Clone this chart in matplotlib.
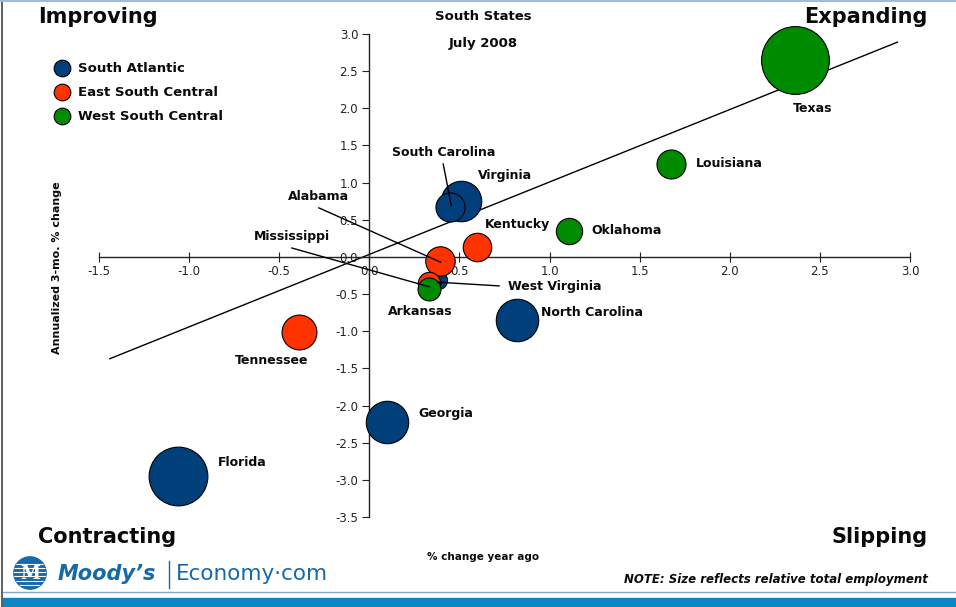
import matplotlib
matplotlib.use("Agg")
import matplotlib.pyplot as plt
from matplotlib.lines import Line2D
from matplotlib.patches import Circle, Rectangle

# data
STATES = ["Florida", "Georgia", "North Carolina", "Virginia", "South Carolina", "West Virginia",
          "Tennessee", "Alabama", "Kentucky", "Mississippi",
          "Texas", "Louisiana", "Oklahoma", "Arkansas"]
REGION = ["South Atlantic"] * 6 + ["East South Central"] * 4 + ["West South Central"] * 4
YOY_CHANGE = [-1.06, 0.10, 0.82, 0.51, 0.45, 0.38,
              -0.39, 0.39, 0.60, 0.33,
              2.36, 1.675, 1.11, 0.33]
ANN_3MO = [-2.95, -2.22, -0.85, 0.75, 0.67, -0.31,
           -1.01, -0.05, 0.13, -0.35,
           2.65, 1.25, 0.35, -0.43]
EMPLOYMENT = [7950, 4150, 4150, 3780, 1950, 760,
              2800, 2000, 1870, 1150,
              10600, 1940, 1590, 1210]
TREND_X = [-1.44, 2.93]
TREND_Y = [-1.37, 2.89]

REGIONS = ["South Atlantic", "East South Central", "West South Central"]
COLORS = {"South Atlantic": "#003f7a", "East South Central": "#ff3300", "West South Central": "#008a00"}

# label placement: (x, y, ha, leader line end or None)
LABELS = {
    "Texas": (2.46, 2.0, "center", None),
    "Louisiana": (1.81, 1.26, "left", None),
    "Oklahoma": (1.23, 0.35, "left", None),
    "Kentucky": (0.82, 0.43, "center", None),
    "Virginia": (0.75, 1.09, "center", None),
    "South Carolina": (0.41, 1.40, "center", (0.455, 0.69)),
    "Alabama": (-0.28, 0.81, "center", (0.395, -0.07)),
    "Mississippi": (-0.43, 0.27, "center", (0.33, -0.40)),
    "West Virginia": (0.77, -0.40, "left", (0.38, -0.34)),
    "Arkansas": (0.28, -0.74, "center", None),
    "North Carolina": (0.95, -0.75, "left", None),
    "Tennessee": (-0.54, -1.39, "center", None),
    "Georgia": (0.27, -2.11, "left", None),
    "Florida": (-0.84, -2.76, "left", None),
}

SIZE_SCALE = 0.225  # points^2 per thousand employees
TEXT = "#0a0a0a"


def main() -> None:
    fig = plt.figure(figsize=(9.56, 6.07), dpi=100)
    ax = fig.add_axes([99 / 956, 90 / 607, 811 / 956, 483 / 607])
    ax.set_xlim(-1.5, 3.0)
    ax.set_ylim(-3.5, 3.0)

    for i, state in enumerate(STATES):
        ax.scatter(YOY_CHANGE[i], ANN_3MO[i], s=EMPLOYMENT[i] * SIZE_SCALE,
                   color=COLORS[REGION[i]], edgecolor="black", linewidth=0.8,
                   zorder=3, clip_on=False)

    ax.plot(TREND_X, TREND_Y, color="black", linewidth=1.0, zorder=2)

    for state, (lx, ly, ha, end) in LABELS.items():
        ax.text(lx, ly, state, ha=ha, va="center", fontsize=9, fontweight="bold",
                color=TEXT, zorder=6)
        if end is not None:
            if state == "West Virginia":
                ax.plot([end[0], lx - 0.05], [end[1], ly + 0.01], color="black", lw=1.0, zorder=5)
            else:
                ax.plot([lx, end[0]], [ly - 0.15, end[1]], color="black", lw=1.0, zorder=5)

    for side in ["top", "right"]:
        ax.spines[side].set_visible(False)
    ax.spines["left"].set_position(("data", 0))
    ax.spines["bottom"].set_position(("data", 0))
    for side in ["left", "bottom"]:
        ax.spines[side].set_color("#222222")
        ax.spines[side].set_linewidth(1.0)
    ax.set_xticks([-1.5, -1.0, -0.5, 0.0, 0.5, 1.0, 1.5, 2.0, 2.5, 3.0])
    ax.set_yticks([-3.5, -3.0, -2.5, -2.0, -1.5, -1.0, -0.5, 0.0, 0.5, 1.0, 1.5, 2.0, 2.5, 3.0])
    ax.xaxis.set_major_formatter(plt.FuncFormatter(lambda v, p: f"{v:.1f}"))
    ax.yaxis.set_major_formatter(plt.FuncFormatter(lambda v, p: f"{v:.1f}"))
    ax.tick_params(axis="x", direction="inout", length=7, labelsize=8.5, colors="#222222", pad=2)
    ax.tick_params(axis="y", direction="out", length=5, labelsize=8.5, colors="#222222", pad=3)
    ax.patch.set_visible(False)

    # titles and quadrant labels
    fig.text(483 / 956, 1 - 17 / 607, "South States", ha="center", va="center",
             fontsize=9.5, fontweight="bold", color=TEXT)
    fig.text(483 / 956, 1 - 44 / 607, "July 2008", ha="center", va="center",
             fontsize=9.5, fontweight="bold", color=TEXT)
    fig.text(38 / 956, 1 - 17 / 607, "Improving", ha="left", va="center",
             fontsize=15, fontweight="bold", color=TEXT)
    fig.text(928 / 956, 1 - 17 / 607, "Expanding", ha="right", va="center",
             fontsize=15, fontweight="bold", color=TEXT)
    fig.text(38 / 956, 1 - 537 / 607, "Contracting", ha="left", va="center",
             fontsize=15, fontweight="bold", color=TEXT)
    fig.text(928 / 956, 1 - 537 / 607, "Slipping", ha="right", va="center",
             fontsize=15, fontweight="bold", color=TEXT)
    fig.text(483 / 956, 1 - 557 / 607, "% change year ago", ha="center", va="center",
             fontsize=7.5, fontweight="bold", color=TEXT)
    fig.text(57 / 956, 1 - 268 / 607, "Annualized 3-mo. % change", ha="center", va="center",
             rotation=90, fontsize=8, fontweight="bold", color=TEXT)

    # legend, drawn by hand to match the row spacing
    for k, region in enumerate(REGIONS):
        yy = 1 - (68 + 24 * k) / 607
        fig.add_artist(Line2D([62 / 956], [yy], marker="o", linestyle="", markersize=12,
                              markerfacecolor=COLORS[region], markeredgecolor="black",
                              markeredgewidth=0.8, transform=fig.transFigure))
        fig.text(78 / 956, yy, region, ha="left", va="center", fontsize=9.5,
                 fontweight="bold", color=TEXT)

    # footer
    blue = "#1569a8"
    logo = fig.add_axes([12 / 956, 1 - 590 / 607, 36 / 956, 34 / 607])
    logo.set_xlim(-1, 1)
    logo.set_ylim(-1, 1)
    logo.set_aspect("equal")
    logo.axis("off")
    disc = Circle((0, 0), 0.95, color=blue)
    logo.add_patch(disc)
    for yy in [-0.7, -0.45, -0.2, 0.05, 0.3, 0.55]:
        logo.plot([-1, 1], [yy, yy], color="white", lw=0.8, clip_path=disc)
    logo.text(0, -0.05, "M", ha="center", va="center", fontsize=13, color="white",
              family="DejaVu Serif", fontweight="bold")
    fig.text(58 / 956, 1 - 574 / 607, "Moody\u2019s", ha="left", va="center", fontsize=15,
             fontweight="bold", fontstyle="italic", color=blue)
    fig.add_artist(Line2D([169 / 956, 169 / 956], [1 - 561 / 607, 1 - 588 / 607],
                          color=blue, lw=1.0, transform=fig.transFigure))
    fig.text(176 / 956, 1 - 574 / 607, "Economy\u00b7com", ha="left", va="center",
             fontsize=15.5, color=blue)
    fig.text(928 / 956, 1 - 580 / 607, "NOTE: Size reflects relative total employment",
             ha="right", va="center", fontsize=8.5, fontweight="bold", fontstyle="italic",
             color=TEXT)

    fig.add_artist(Line2D([3 / 956, 1], [1 - 592 / 607, 1 - 592 / 607], color="#8aa6c4",
                          lw=1.0, transform=fig.transFigure))
    fig.add_artist(Rectangle((3 / 956, 0), 1, 9 / 607, color="#0b86c3",
                             transform=fig.transFigure))
    fig.add_artist(Line2D([2 / 956, 2 / 956], [0, 1], color="#444444", lw=1.2,
                          transform=fig.transFigure))
    fig.add_artist(Line2D([0, 1], [1 - 0.5 / 607, 1 - 0.5 / 607], color="#9fbcd8", lw=1.5,
                          transform=fig.transFigure))

    fig.savefig("out.png", dpi=100)
    plt.close(fig)


if __name__ == "__main__":
    main()
